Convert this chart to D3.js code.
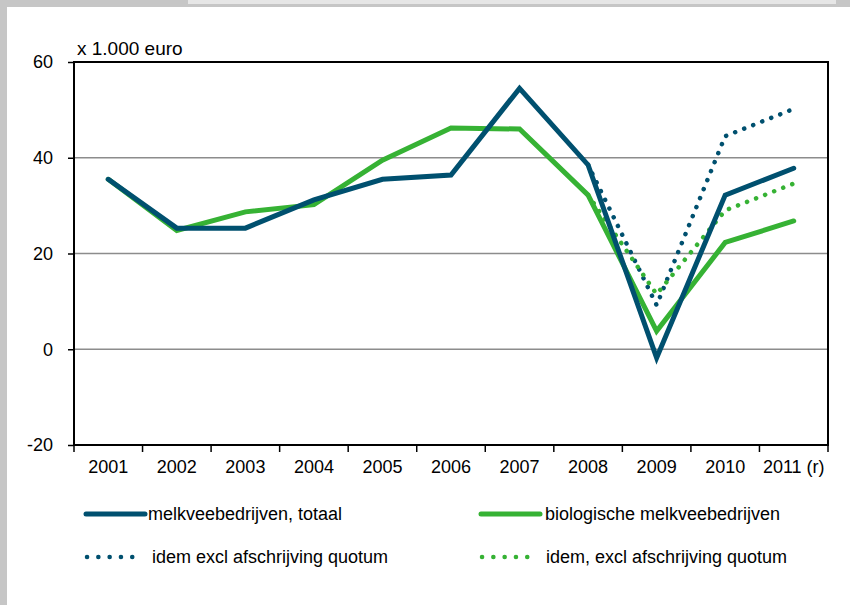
<!DOCTYPE html>
<html>
<head>
<meta charset="utf-8">
<script src="https://cdn.jsdelivr.net/npm/d3@7"></script>
<style>
  html, body { margin: 0; padding: 0; background: #fff; }
  svg { display: block; }
  text { font-family: "Liberation Sans", Arial, sans-serif; fill: #000; }
</style>
</head>
<body>
<svg id="chart" width="850" height="605"></svg>
<script>
// Inkomen melkveebedrijven (x 1.000 euro)
const years = ["2001", "2002", "2003", "2004", "2005", "2006", "2007", "2008", "2009", "2010", "2011 (r)"];
const totaal = [35.5, 25.3, 25.3, 31.2, 35.5, 36.4, 54.5, 38.5, -1.8, 32.2, 37.8];
const biologisch = [35.5, 24.8, 28.7, 30.2, 39.5, 46.2, 46.0, 32.2, 3.8, 22.3, 26.8];
// Varianten exclusief afschrijving quotum (vanaf 2008)
const totaalExcl = [null, null, null, null, null, null, null, 38.5, 9.2, 44.5, 50.2];
const biologischExcl = [null, null, null, null, null, null, null, 32.2, 11.5, 29.0, 34.6];
const yTicks = [-20, 0, 20, 40, 60];

const BLUE = "#00506f";
const GREEN = "#36b234";

const svg = d3.select("#chart");

// Kader van de figuur
svg.append("rect").attr("x", 0).attr("y", 0).attr("width", 850).attr("height", 7).attr("fill", "#c6c6c6");
svg.append("rect").attr("x", 188).attr("y", 0).attr("width", 648).attr("height", 4).attr("fill", "#e6e6e6");
svg.append("rect").attr("x", 0).attr("y", 0).attr("width", 7).attr("height", 605).attr("fill", "#c6c6c6");

const plot = { left: 74, right: 828, top: 62, bottom: 445 };

const x = d3.scaleBand().domain(years).range([plot.left, plot.right]).padding(0);
const y = d3.scaleLinear().domain([-20, 60]).range([plot.bottom, plot.top]);
const cx = d => x(d) + x.bandwidth() / 2;

// Rasterlijnen
svg.append("g")
  .selectAll("line")
  .data(yTicks.filter(v => v > -20 && v < 60))
  .join("line")
  .attr("x1", plot.left).attr("x2", plot.right)
  .attr("y1", d => y(d)).attr("y2", d => y(d))
  .attr("stroke", "#8c8c8c").attr("stroke-width", 1.5);

// Y-as
const yAxis = svg.append("g")
  .attr("transform", `translate(${plot.left},0)`)
  .call(d3.axisLeft(y).tickValues(yTicks).tickSize(6).tickPadding(15).tickFormat(d => String(d)));
yAxis.select(".domain").remove();
yAxis.selectAll(".tick line").attr("stroke", "#000").attr("stroke-width", 1.5);
yAxis.selectAll(".tick text").attr("font-size", 18).style("font-family", null);

// X-as: streepjes op de klassegrenzen
const bounds = years.map(d => x(d)).concat([plot.right]);
svg.append("g")
  .selectAll("line")
  .data(bounds)
  .join("line")
  .attr("x1", d => d).attr("x2", d => d)
  .attr("y1", plot.bottom).attr("y2", plot.bottom + 7)
  .attr("stroke", "#000").attr("stroke-width", 1.5);

const xAxis = svg.append("g")
  .attr("transform", `translate(0,${plot.bottom})`)
  .call(d3.axisBottom(x).tickSize(0).tickPadding(15));
xAxis.select(".domain").remove();
xAxis.selectAll(".tick text").attr("font-size", 18).style("font-family", null);

// Plotkader
svg.append("rect")
  .attr("x", plot.left).attr("y", plot.top)
  .attr("width", plot.right - plot.left).attr("height", plot.bottom - plot.top)
  .attr("fill", "none").attr("stroke", "#000").attr("stroke-width", 2);

// Eenheid
svg.append("text")
  .attr("x", 77).attr("y", 55)
  .attr("font-size", 19)
  .text("x 1.000 euro");

// Lijnen
const line = d3.line()
  .defined(d => d.v !== null)
  .x(d => cx(d.year))
  .y(d => y(d.v));

const series = [
  { values: totaalExcl, color: BLUE, dotted: true },
  { values: biologischExcl, color: GREEN, dotted: true },
  { values: biologisch, color: GREEN, dotted: false },
  { values: totaal, color: BLUE, dotted: false }
];

series.forEach(s => {
  const data = years.map((yr, i) => ({ year: yr, v: s.values[i] }));
  const path = svg.append("path")
    .datum(data)
    .attr("d", line)
    .attr("fill", "none")
    .attr("stroke", s.color);
  if (s.dotted) {
    path.attr("stroke-width", 4.5)
      .attr("stroke-linecap", "round")
      .attr("stroke-dasharray", "0.1 9.6");
  } else {
    path.attr("stroke-width", 5)
      .attr("stroke-linejoin", "miter")
      .attr("stroke-linecap", "round");
  }
});

// Legenda
const legend = [
  { label: "melkveebedrijven, totaal", color: BLUE, dotted: false, x: 86, tx: 148, y: 514 },
  { label: "biologische melkveebedrijven", color: GREEN, dotted: false, x: 481, tx: 545, y: 514 },
  { label: "idem excl afschrijving quotum", color: BLUE, dotted: true, x: 87, tx: 152, y: 557 },
  { label: "idem, excl afschrijving quotum", color: GREEN, dotted: true, x: 482, tx: 546, y: 557 }
];

const lg = svg.append("g").selectAll("g").data(legend).join("g");
lg.append("line")
  .attr("x1", d => d.x).attr("x2", d => d.dotted ? d.x + 56 : d.x + 59)
  .attr("y1", d => d.y).attr("y2", d => d.y)
  .attr("stroke", d => d.color)
  .attr("stroke-width", d => d.dotted ? 4.5 : 5)
  .attr("stroke-linecap", "round")
  .attr("stroke-dasharray", d => d.dotted ? "0.1 11.2" : null);
lg.append("text")
  .attr("x", d => d.tx)
  .attr("y", d => d.y)
  .attr("dy", "0.35em")
  .attr("font-size", 18)
  .text(d => d.label);
</script>
</body>
</html>
